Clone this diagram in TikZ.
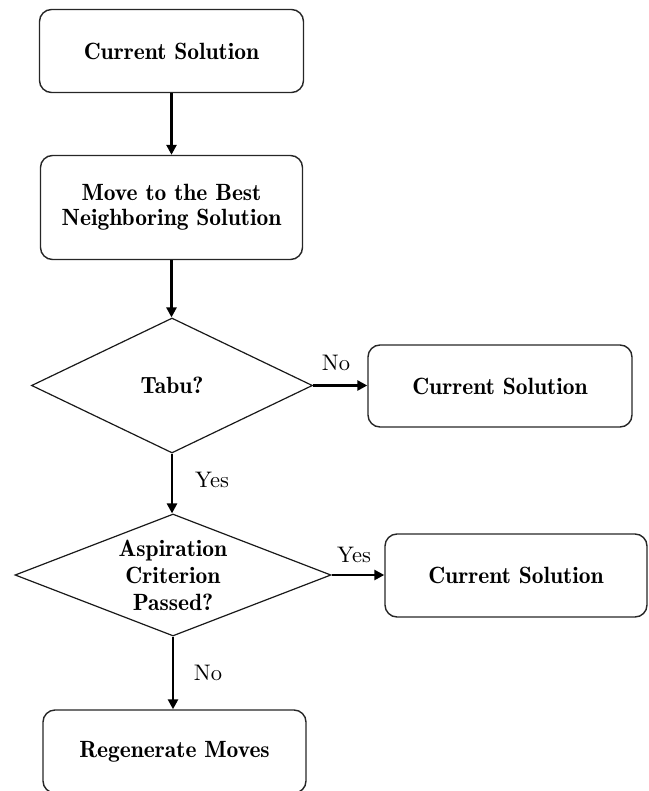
\documentclass[tikz,border=0pt]{standalone}
\usepackage{fontspec}
\usetikzlibrary{shapes.geometric,arrows.meta}
% branch labels use the 10pt design of Latin Modern for a heavier stroke
\newfontfamily\lblfont{lmroman10-regular.otf}

\tikzset{
  x=1pt, y=-1pt,
  every node/.style={align=center, inner sep=0pt},
  box/.style={draw=black!85, line width=1.4pt, rounded corners=12pt,
              font=\fontsize{23.5}{25}\fontseries{b}\selectfont},
  decision/.style={draw=black!90, diamond, line width=1.2pt, aspect=2.3,
              font=\fontsize{23.5}{27}\fontseries{b}\selectfont},
  flow/.style={line width=2.8pt, -{Triangle[length=10pt,width=10pt]}},
  tag/.style={font=\lblfont\fontsize{22.5}{24}\selectfont},
}

\begin{document}
\begin{tikzpicture}
\useasboundingbox (0,0) rectangle (648,791);

% main column
\node[box, minimum width=264pt, minimum height=83pt] (cur) at (171.5,51) {Current Solution};
\node[box, minimum width=262pt, minimum height=104pt] (move) at (171.5,207.5) {Move to the Best\\Neighboring Solution};
\node[decision, minimum width=281pt, minimum height=135pt] (tabu) at (172,385.5) {Tabu?};
\node[decision, minimum width=316pt, minimum height=122pt] (asp) at (173,575) {Aspiration\\Criterion\\Passed?};
\node[box, minimum width=263pt, minimum height=83pt] (regen) at (174.5,751.5) {Regenerate Moves};

% side outcomes
\node[box, minimum width=264pt, minimum height=82pt] (curA) at (500,386) {Current Solution};
\node[box, minimum width=262pt, minimum height=83pt] (curB) at (516,575.5) {Current Solution};

% connectors
\draw[flow] (cur.south) -- (cur.south |- move.north);
\draw[flow] (move.south) -- (move.south |- tabu.north);
\draw[flow] (tabu.south) -- (tabu.south |- asp.north);
\draw[flow] (asp.south) -- (asp.south |- regen.north);
\draw[flow] (tabu.east) -- (tabu.east -| curA.west);
\draw[flow] (asp.east) -- (asp.east -| curB.west);

% branch labels
\node[tag] (lNo1) at (336,363) {No};
\node[tag] (lYes1) at (212,480) {Yes};
\node[tag] (lYes2) at (354,555) {Yes};
\node[tag] (lNo2) at (208,673) {No};
\end{tikzpicture}
\end{document}
